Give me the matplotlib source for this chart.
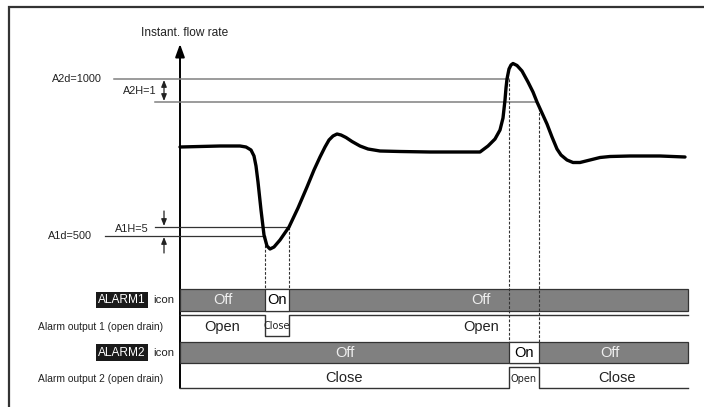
import numpy as np
import matplotlib.pyplot as plt
from matplotlib.patches import Rectangle, FancyArrowPatch

plt.rcParams['font.family'] = ['Liberation Sans', 'DejaVu Sans']

# flow trace (time, level) in drawing units, y grows downward
curve_t = [180, 200, 220, 240, 246, 251, 254, 256, 258, 261, 264, 267, 270, 274, 280, 289,
           298, 307, 314, 320, 325, 329, 333, 337, 341, 346, 352, 360, 368, 380, 400, 430,
           460, 480, 488, 495, 500, 503, 505, 506, 507, 509, 511, 513, 517, 522, 528,
           533, 537, 542, 547, 552, 557, 561, 567, 573, 580, 590, 600, 610, 630, 660, 685]
curve_y = [147, 146.5, 146, 146, 147, 150, 156, 166, 182, 210, 235, 246, 249, 247, 240, 227,
           208, 187, 170, 157, 147, 140, 136, 134, 135, 137.5, 141.5, 146, 149, 151, 151.5, 152,
           152, 152, 146, 139, 130, 118, 100, 88, 79, 69, 65, 63.5, 65.5, 71, 82,
           92, 102, 113, 124, 137, 149, 155, 160, 162.5, 162.5, 160, 157.5, 156.5, 156, 156, 157]

a2d_y, a2h_y = 79, 102
a1d_y, a1h_y = 236, 227
a2d_label, a2h_label = 'A2d=1000', 'A2H=1'
a1d_label, a1h_label = 'A1d=500', 'A1H=5'

alarm1_on = (265, 289)
alarm2_on = (509, 539)
t_start, t_end = 180, 688

row_labels = ['Alarm output 1 (open drain)', 'Alarm output 2 (open drain)']
icon_names = ['ALARM1', 'ALARM2']

fig = plt.figure(figsize=(7.04, 4.07), dpi=100)
ax = fig.add_axes([0, 0, 1, 1])
ax.set_xlim(0, 704)
ax.set_ylim(407, 0)
ax.axis('off')

txt = '#222222'
grey = '#808080'
narrow = ['Liberation Sans Narrow', 'DejaVu Sans']

# outer frame
ax.plot([9, 9, 704], [407, 7, 7], color='#333333', lw=1.6, solid_joinstyle='miter')

# threshold lines
ax.plot([114, 509], [a2d_y, a2d_y], color=grey, lw=1.1)
ax.plot([155, 536], [a2h_y, a2h_y], color=grey, lw=1.1)
ax.plot([105, 265], [a1d_y, a1d_y], color='#333333', lw=0.9)
ax.plot([155, 289], [a1h_y, a1h_y], color='#333333', lw=0.9)

ax.text(52, a2d_y, a2d_label, fontsize=7.8, color=txt, va='center', ha='left')
ax.text(157, 91, a2h_label, fontsize=7.8, color=txt, va='center', ha='right')
ax.text(48, a1d_y, a1d_label, fontsize=7.8, color=txt, va='center', ha='left')
ax.text(115, 229, a1h_label, fontsize=7.8, color=txt, va='center', ha='left')

# hysteresis arrows
arw = dict(mutation_scale=8, lw=0.9, color='#222222', shrinkA=0, shrinkB=0)
head = 'head_width=0.2,head_length=0.5'
ax.add_patch(FancyArrowPatch((164, a2d_y + 1), (164, a2h_y - 1), arrowstyle='<|-|>,' + head, **arw))
ax.add_patch(FancyArrowPatch((164, 211), (164, a1h_y - 1), arrowstyle='-|>,' + head, **arw))
ax.add_patch(FancyArrowPatch((164, 253), (164, a1d_y + 1), arrowstyle='-|>,' + head, **arw))

# vertical axis
ax.add_patch(FancyArrowPatch((180, 388), (180, 44), arrowstyle='-|>,head_width=0.2,head_length=0.55',
                             mutation_scale=14, lw=1.4, color='black', shrinkA=0, shrinkB=0))
ax.text(185, 33, 'Instant. flow rate', fontsize=8.6, color=txt, ha='center', va='center')

# dashed guides
dash = dict(color='#333333', lw=0.8, ls=(0, (2.5, 1.5)))
ax.plot([alarm1_on[0]] * 2, [a1d_y, 289], **dash)
ax.plot([alarm1_on[1]] * 2, [a1h_y, 289], **dash)
ax.plot([alarm2_on[0]] * 2, [a2d_y, 342], **dash)
ax.plot([alarm2_on[1]] * 2, [108, 342], **dash)

# flow trace
ax.plot(curve_t, curve_y, color='black', lw=2.4, solid_joinstyle='round', solid_capstyle='round')

# icon rows and output rows
bar_rows = [(289, 311), (342, 363)]
out_levels = [(315, 336), (367, 388)]   # (high, low)
for i, ((top, bot), on) in enumerate(zip(bar_rows, [alarm1_on, alarm2_on])):
    ax.add_patch(Rectangle((t_start, top), t_end - t_start, bot - top,
                           facecolor=grey, edgecolor='#333333', lw=0.9, zorder=1))
    ax.add_patch(Rectangle((on[0], top), on[1] - on[0], bot - top,
                           facecolor='white', edgecolor='#333333', lw=0.9, zorder=3))
    mid = (top + bot) / 2
    ax.text((on[0] + on[1]) / 2, mid + 0.5, 'On', fontsize=10.5, color='black',
            ha='center', va='center', zorder=4)
    ax.text((t_start + on[0]) / 2, mid + 0.5, 'Off', fontsize=10.5, color='#eeeeee',
            ha='center', va='center', zorder=4)
    ax.text((on[1] + t_end) / 2 - (8 if i == 0 else 4), mid + 0.5, 'Off', fontsize=10.5,
            color='#eeeeee', ha='center', va='center', zorder=4)
    # left labels
    ax.text(122, mid, icon_names[i], fontsize=8.6, color='white', ha='center', va='center',
            bbox=dict(boxstyle='square,pad=0.18', fc='#1a1a1a', ec='none'))
    ax.text(153, mid, 'icon', fontsize=8.2, color=txt, ha='left', va='center')

# output 1: open normally, closed while alarm 1 on
hi, lo = out_levels[0]
ax.plot([t_start, alarm1_on[0], alarm1_on[0], alarm1_on[1], alarm1_on[1], t_end],
        [hi, hi, lo, lo, hi, hi], color='#333333', lw=1.0, zorder=2)
ax.text((t_start + alarm1_on[0]) / 2, 327, 'Open', fontsize=10.5, color=txt, ha='center', va='center')
ax.text((alarm1_on[0] + alarm1_on[1]) / 2, 326, 'Close', fontsize=7, color=txt,
        ha='center', va='center', family=narrow)
ax.text(481, 327, 'Open', fontsize=10.5, color=txt, ha='center', va='center')

# output 2: closed normally, open while alarm 2 on
hi, lo = out_levels[1]
ax.plot([t_start, alarm2_on[0], alarm2_on[0], alarm2_on[1], alarm2_on[1], t_end],
        [lo, lo, hi, hi, lo, lo], color='#333333', lw=1.0, zorder=2)
ax.text((t_start + alarm2_on[0]) / 2, 378, 'Close', fontsize=10.5, color=txt, ha='center', va='center')
ax.text((alarm2_on[0] + alarm2_on[1]) / 2, 379, 'Open', fontsize=7, color=txt,
        ha='center', va='center', family=narrow)
ax.text(617, 378, 'Close', fontsize=10.5, color=txt, ha='center', va='center')

ax.text(163, 327, row_labels[0], fontsize=7.4, color=txt, ha='right', va='center')
ax.text(163, 379, row_labels[1], fontsize=7.4, color=txt, ha='right', va='center')

fig.savefig('out.png', dpi=100)
